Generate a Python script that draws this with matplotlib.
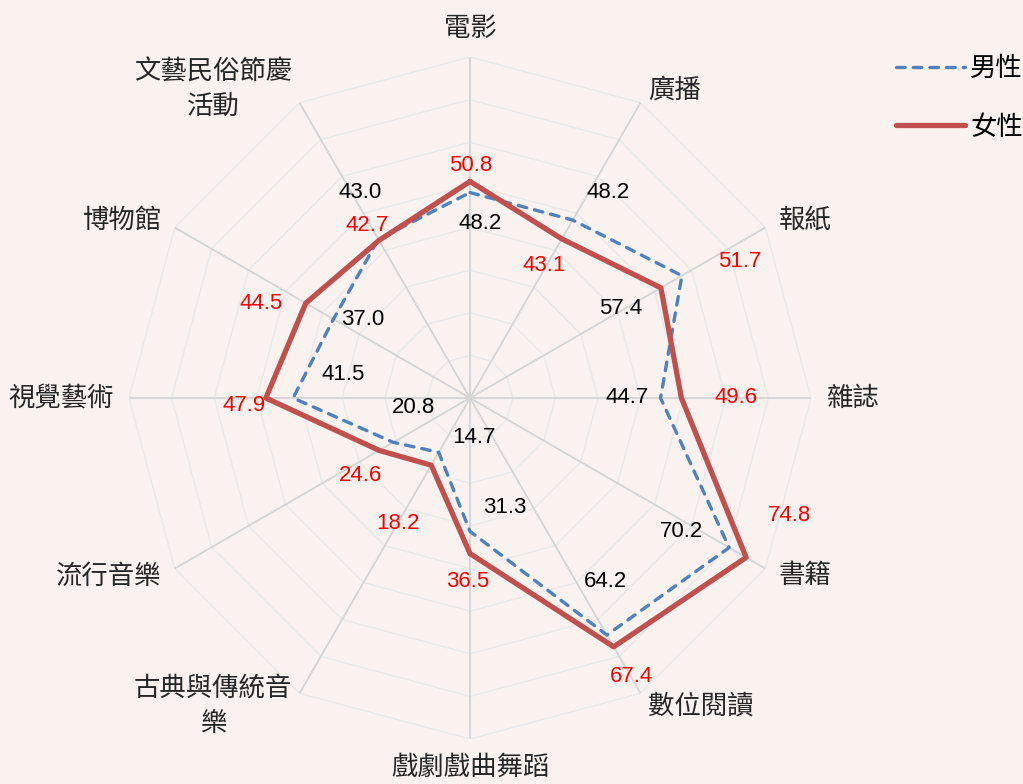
import numpy as np
import matplotlib.pyplot as plt

plt.rcParams['font.family'] = ['Noto Sans CJK TC', 'DejaVu Sans']

# categories clockwise from top
categories = ['電影', '廣播', '報紙', '雜誌', '書籍', '數位閱讀', '戲劇戲曲舞蹈',
              '古典與傳統音\n樂', '流行音樂', '視覺藝術', '博物館', '文藝民俗節慶\n活動']
male = [48.2, 48.2, 57.4, 44.7, 70.2, 64.2, 31.3, 14.7, 20.8, 41.5, 37.0, 43.0]
female = [50.8, 43.1, 51.7, 49.6, 74.8, 67.4, 36.5, 18.2, 24.6, 47.9, 44.5, 42.7]

# label offsets in pixels (dx, dy) from each point
male_off = [(10, -31), (35, 28), (-61, -33), (-33, 0), (-48, 16), (-1, 53),
            (35, 24), (35, 15), (20, 35), (50, 23), (29, 0), (-18, 47)]
female_off = [(1, 16), (-18, -27), (79, 26), (55, 0), (43, 42), (18, -30),
              (-2, -28), (-33, -58), (-19, -25), (-22, -8), (-45, 0), (-12, 15)]

n = len(categories)
theta = np.arange(n) * 2 * np.pi / n
rmax = 80

fig = plt.figure(figsize=(10.23, 7.84), dpi=100, facecolor='#f9f2ee')
ax = fig.add_axes([0.1261, 0.0574, 0.6667, 0.8699], projection='polar')
ax.set_theta_zero_location('N')
ax.set_theta_direction(-1)
ax.set_ylim(0, rmax)
ax.patch.set_alpha(0)
ax.grid(False)
ax.spines['polar'].set_visible(False)
ax.set_xticks([])
ax.set_yticks([])

# polygon grid
tc = np.append(theta, theta[0])
for r in range(10, rmax + 1, 10):
    ax.plot(tc, [r] * (n + 1), color='#e9e9e9', lw=1.0, zorder=1)
for t in theta:
    ax.plot([t, t], [0, rmax], color='#d4d4d4', lw=1.3, zorder=1)

ax.plot(tc, male + male[:1], color='#4f81bd', lw=2.4, ls=(0, (2.6, 2.4)),
        dash_capstyle='round', zorder=3, label='男性')
ax.plot(tc, female + female[:1], color='#c0504d', lw=3.8, zorder=4, label='女性',
        solid_capstyle='round')

for i in range(n):
    ax.annotate(f'{male[i]:.1f}', xy=(theta[i], male[i]), xytext=male_off[i],
                textcoords='offset pixels', ha='center', va='center',
                fontsize=16, color='black', family=['Liberation Sans', 'DejaVu Sans'])
    ax.annotate(f'{female[i]:.1f}', xy=(theta[i], female[i]), xytext=female_off[i],
                textcoords='offset pixels', ha='center', va='center',
                fontsize=16, color='#ff0000', family=['Liberation Sans', 'DejaVu Sans'])

# category labels
for i, t in enumerate(theta):
    deg = np.degrees(t) % 360
    if deg == 0:
        ha, va = 'center', 'bottom'
    elif deg == 180:
        ha, va = 'center', 'top'
    elif deg < 180:
        ha, va = 'left', 'center'
    else:
        ha, va = 'right', 'center'
    ax.text(t, 83.5, categories[i], ha=ha, va=va, fontsize=19, color='#262626',
            multialignment='center', linespacing=1.35)

fig.legend(loc='upper right', bbox_to_anchor=(1.0, 0.93), frameon=False,
           fontsize=19, handlelength=2.6, labelspacing=1.2, handletextpad=0.2,
           borderpad=0, borderaxespad=0)

fig.savefig('out.png', dpi=100, facecolor=fig.get_facecolor())
